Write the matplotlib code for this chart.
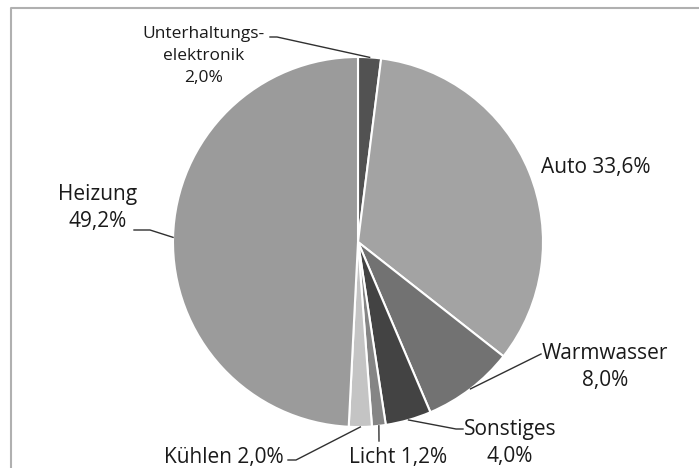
import numpy as np
import matplotlib.pyplot as plt

# Energy consumption shares (%), clockwise from top
labels = ['Unterhaltungs-\nelektronik\n2,0%', 'Auto 33,6%', 'Warmwasser\n8,0%',
          'Sonstiges\n4,0%', 'Licht 1,2%', 'Kühlen 2,0%', 'Heizung\n49,2%']
shares = [2.0, 33.6, 8.0, 4.0, 1.2, 2.0, 49.2]
colors = ['#525252', '#a3a3a3', '#727272', '#434343', '#858585', '#c4c4c4', '#9b9b9b']

W, H = 699, 468
fig = plt.figure(figsize=(W / 100, H / 100), dpi=100)
ax = fig.add_axes([0, 0, 1, 1])

# frame (right and bottom edges lie outside the picture)
ax.plot([11, 11, W + 5], [-5, H - 8, H - 8], color='#b0b0b0', lw=1.5, clip_on=False)

cx, cy, r = 358, H - 242, 185
wedges, _ = ax.pie(shares, colors=colors, startangle=90, counterclock=False,
                   center=(cx, cy), radius=r, frame=True,
                   wedgeprops=dict(edgecolor='white', linewidth=1.5))
ax.set_xlim(0, W)
ax.set_ylim(0, H)
ax.set_aspect('equal')
ax.axis('off')

def edge_point(w):
    a = np.deg2rad((w.theta1 + w.theta2) / 2)
    return cx + r * np.cos(a), cy + r * np.sin(a)

font = 'Open Sans'
tc = '#1a1a1a'

# label positions in pixel coordinates (top-left origin) and leader paths
setup = [
    # text x, text y, ha, size, line spacing, leader path or None
    (204, 56, 'center', 12.5, 1.5, [(270, 37), (277, 37)]),
    (541, 168, 'left', 15, 1.4, None),
    (605, 367, 'center', 15, 1.4, [(541, 354), (541, 354)]),
    (510, 443, 'center', 15, 1.4, [(463, 429), (456, 429)]),
    (398, 457, 'center', 15, 1.4, [(379, 441), (379, 441)]),
    (224, 457, 'center', 15, 1.4, [(288, 460), (296, 460)]),
    (98, 208, 'center', 15, 1.4, [(134, 230), (150, 230)]),
]

for w, lab, (tx, ty, ha, fs, ls, path) in zip(wedges, labels, setup):
    ax.text(tx, H - ty, lab, ha=ha, va='center', fontsize=fs, family=font,
            color=tc, linespacing=ls)
    if path is not None:
        ex, ey = edge_point(w)
        xs = [p[0] for p in path] + [ex]
        ys = [H - p[1] for p in path] + [ey]
        ax.plot(xs, ys, color='#303030', lw=1)

fig.savefig('out.png', dpi=100)
